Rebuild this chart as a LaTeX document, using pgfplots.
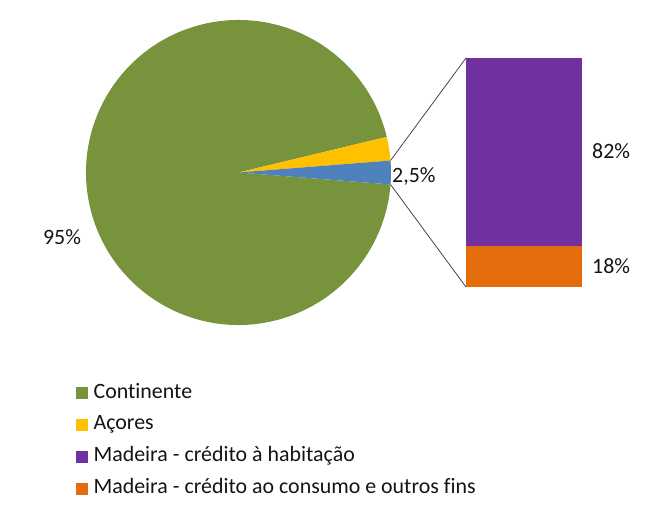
\documentclass[border=0pt]{standalone}
\usepackage{pgfplots}
\pgfplotsset{compat=1.18}
\usepackage{pgfplotstable}
\usepackage{fontspec}
\setmainfont[Ligatures=CommonOff]{Carlito}

\definecolor{cgreen}{RGB}{119,147,60}
\definecolor{cyellow}{RGB}{255,192,0}
\definecolor{cblue}{RGB}{79,129,189}
\definecolor{cpurple}{RGB}{112,48,160}
\definecolor{corange}{RGB}{228,108,10}
\definecolor{ctext}{RGB}{20,20,20}

% pie: shares of the three regions
\pgfplotstableread{
region share
Continente 95
Acores 2.5
Madeira 2.5
}\piedata

% bar: breakdown of Madeira
\pgfplotstableread{
part share
habitacao 82
consumo 18
}\bardata

\begin{document}
\begin{tikzpicture}[font=\fontsize{21.9}{25}\selectfont, text=ctext]
\useasboundingbox (0,0) rectangle (661pt,519pt);

\pgfplotstablegetelem{1}{share}\of\piedata \let\sA\pgfplotsretval
\pgfplotstablegetelem{2}{share}\of\piedata \let\sM\pgfplotsretval
\pgfmathsetmacro{\aMlo}{-1.8*\sM}
\pgfmathsetmacro{\aMhi}{1.8*\sM}
\pgfmathsetmacro{\aAhi}{\aMhi+3.6*\sA}
\pgfmathsetmacro{\aChi}{\aMlo+360}
\def\R{152.5pt}

% frame axis in pixel units: pie, connectors, labels, legend
\begin{axis}[
  at={(0,0)}, anchor=south west,
  scale only axis, width=661pt, height=519pt,
  xmin=0, xmax=661, ymin=0, ymax=519,
  hide axis, clip=false,
  legend cell align=left,
  legend image code/.code={\fill[#1] (0pt,-5.5pt) rectangle (11pt,5.5pt);},
  legend style={at={(axis cs:76,135)}, anchor=north west, draw=none, fill=none,
    inner sep=0pt, row sep=13.7pt,
    nodes={inner sep=0pt, text height=14pt, text depth=4pt},
    /tikz/every odd column/.append style={column sep=6pt}},
]
\fill[cgreen] (axis cs:238.5,346.5) -- ++(\aAhi:\R) arc[start angle=\aAhi, end angle=\aChi, radius=\R] -- cycle;
\fill[cyellow] (axis cs:238.5,346.5) -- ++(\aMhi:\R) arc[start angle=\aMhi, end angle=\aAhi, radius=\R] -- cycle;
\fill[cblue] (axis cs:238.5,346.5) -- ++(\aMlo:\R) arc[start angle=\aMlo, end angle=\aMhi, radius=\R] -- cycle;

\draw[black!80, line width=0.7pt] (axis cs:238.5,346.5) ++(\aMhi:\R) -- (axis cs:466,461);
\draw[black!80, line width=0.7pt] (axis cs:238.5,346.5) ++(\aMlo:\R) -- (axis cs:466,232);

\node[anchor=center] at (axis cs:62,282) {95\%};
\node[anchor=west, inner sep=0pt] at (axis cs:392,343) {2,5\%};

\addlegendimage{cgreen}\addlegendentry{Continente}
\addlegendimage{cyellow}\addlegendentry{Açores}
\addlegendimage{cpurple}\addlegendentry{Madeira - crédito à habitação}
\addlegendimage{corange}\addlegendentry{Madeira - crédito ao consumo e outros fins}
\end{axis}

% stacked bar for Madeira
\begin{axis}[
  at={(466pt,232pt)}, anchor=south west,
  scale only axis, width=116pt, height=229pt,
  xmin=-0.5, xmax=0.5, ymin=0, ymax=100,
  hide axis, clip=false,
  ybar stacked, bar width=116pt,
]
\addplot[fill=corange, draw=none] table[x expr=0, y=share, skip coords between index={0}{1}] {\bardata};
\addplot[fill=cpurple, draw=none] table[x expr=0, y=share, skip coords between index={1}{2}] {\bardata};
\node[anchor=west, inner sep=0pt, xshift=10pt] at (axis cs:0.5,59.5) {82\%};
\node[anchor=west, inner sep=0pt, xshift=10pt] at (axis cs:0.5,9) {18\%};
\end{axis}
\end{tikzpicture}
\end{document}
